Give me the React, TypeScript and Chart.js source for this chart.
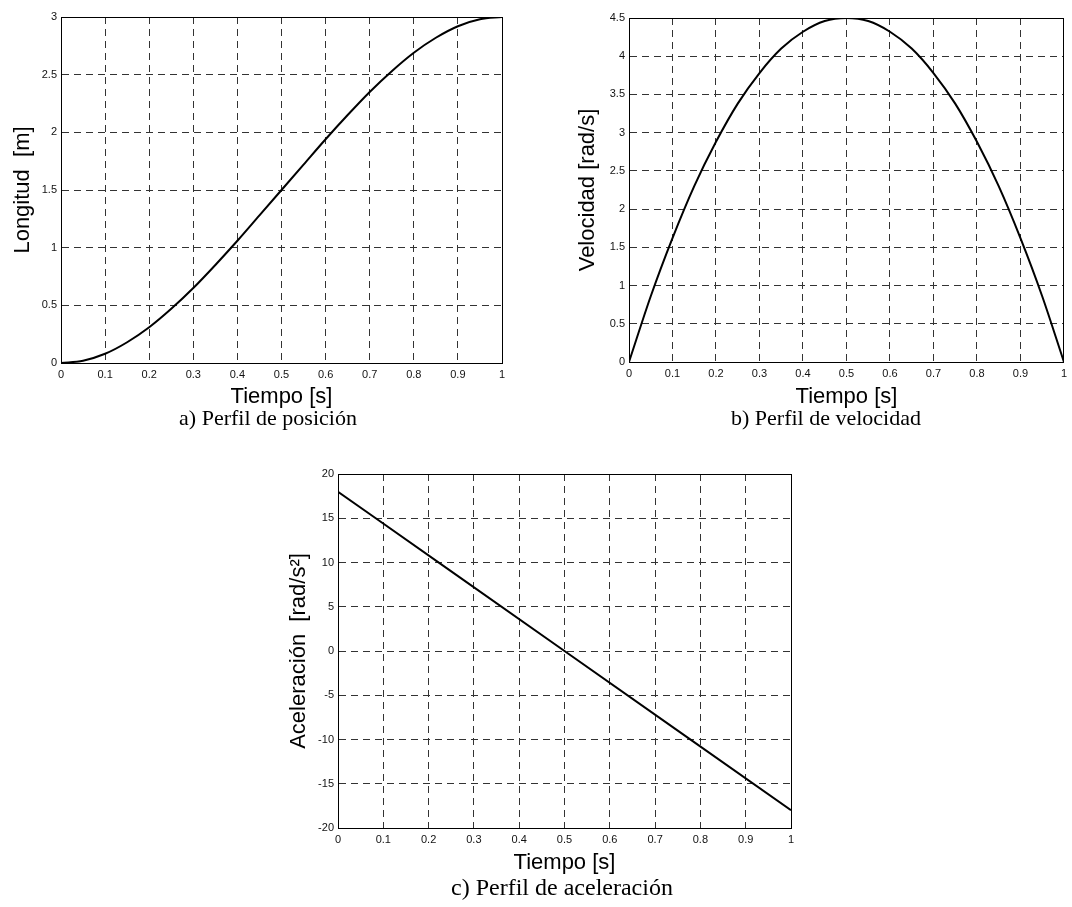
import React, { useEffect, useRef } from 'react';
import { Chart, registerables } from 'chart.js';

Chart.register(...registerables);

// ---------------- data ----------------
const timeValues = [0, 0.05, 0.1, 0.15, 0.2, 0.25, 0.3, 0.35, 0.4, 0.45, 0.5, 0.55, 0.6, 0.65, 0.7, 0.75, 0.8, 0.85, 0.9, 0.95, 1];
const positionValues = [0, 0.02, 0.08, 0.18, 0.31, 0.47, 0.65, 0.85, 1.06, 1.28, 1.5, 1.72, 1.94, 2.15, 2.35, 2.53, 2.69, 2.82, 2.92, 2.98, 3.0];
const velocityValues = [0, 0.86, 1.62, 2.3, 2.88, 3.38, 3.78, 4.1, 4.32, 4.46, 4.5, 4.46, 4.32, 4.1, 3.78, 3.38, 2.88, 2.3, 1.62, 0.86, 0];
const accelTime = [0, 0.25, 0.5, 0.75, 1];
const accelValues = [18, 9, 0, -9, -18];

const xTickLabels = [0, 0.1, 0.2, 0.3, 0.4, 0.5, 0.6, 0.7, 0.8, 0.9, 1];
const positionTicks = [0, 0.5, 1, 1.5, 2, 2.5, 3];
const velocityTicks = [0, 0.5, 1, 1.5, 2, 2.5, 3, 3.5, 4, 4.5];
const accelTicks = [-20, -15, -10, -5, 0, 5, 10, 15, 20];

const xTitle = 'Tiempo [s]';
const captions = ['a) Perfil de posición', 'b) Perfil de velocidad', 'c) Perfil de aceleración'];
const yTitles = ['Longitud  [m]', 'Velocidad [rad/s]', 'Aceleración  [rad/s²]'];

// ---------------- layout ----------------
const SANS = '"Liberation Sans", Arial, sans-serif';
const SERIF = '"Liberation Serif", "Times New Roman", serif';
const TITLE_SIZE = 22;

type Geo = {
  cx: number; cy: number; cw: number; ch: number;
  L: number; T: number; R: number; B: number;
  yTitleX: number; xTitleY: number;
  capX: number; capY: number; capSize: number;
};

const boxPlugin = {
  id: 'matlabBox',
  afterDraw(chart: any) {
    const { ctx, chartArea } = chart;
    const l = Math.round(chartArea.left - 0.5) + 0.5;
    const t = Math.round(chartArea.top - 0.5) + 0.5;
    const r = Math.round(chartArea.right - 0.5) + 0.5;
    const b = Math.round(chartArea.bottom - 0.5) + 0.5;
    ctx.save();
    ctx.strokeStyle = '#000';
    ctx.lineWidth = 1;
    ctx.setLineDash([]);
    ctx.strokeRect(l, t, r - l, b - t);
    ctx.restore();
  },
};

function Panel({ geo, xs, ys, yTicks, yTitle, caption }: {
  geo: Geo; xs: number[]; ys: number[]; yTicks: number[]; yTitle: string; caption: string;
}) {
  const ref = useRef<HTMLCanvasElement | null>(null);

  useEffect(() => {
    if (!ref.current) return;
    const lh = TITLE_SIZE; // lineHeight 1
    const padLeft = geo.yTitleX - geo.cx - lh / 2;
    const yWidth = geo.L - geo.cx - padLeft;
    const padTop = geo.T - geo.cy;
    const padRight = geo.cx + geo.cw - geo.R;
    const xHeight = geo.xTitleY + lh / 2 - geo.B;
    const padBottom = geo.cy + geo.ch - (geo.B + xHeight);

    const chart = new Chart(ref.current, {
      type: 'line',
      data: {
        datasets: [{
          data: xs.map((x, i) => ({ x, y: ys[i] })),
          borderColor: '#000',
          borderWidth: 2,
          pointRadius: 0,
          fill: false,
          cubicInterpolationMode: 'monotone',
        }],
      },
      options: {
        animation: false,
        responsive: false,
        events: [],
        layout: { padding: { left: padLeft, top: padTop, right: padRight, bottom: padBottom } },
        plugins: { legend: { display: false }, tooltip: { enabled: false }, title: { display: false } },
        scales: {
          x: {
            type: 'linear',
            min: xTickLabels[0],
            max: xTickLabels[xTickLabels.length - 1],
            afterBuildTicks: (s: any) => { s.ticks = xTickLabels.map((v) => ({ value: v })); },
            afterFit: (s: any) => { s.height = xHeight; },
            grid: { color: '#333', lineWidth: 1, drawTicks: false },
            border: { display: true, color: '#000', width: 1, dash: [7, 5] },
            ticks: {
              padding: 5,
              color: '#111',
              maxRotation: 0,
              autoSkip: false,
              font: { family: SANS, size: 11 },
              callback: (v: any) => String(v),
            },
            title: {
              display: true,
              text: xTitle,
              color: '#000',
              padding: 0,
              font: { family: SANS, size: TITLE_SIZE, lineHeight: 1 },
            },
          },
          y: {
            type: 'linear',
            min: yTicks[0],
            max: yTicks[yTicks.length - 1],
            afterBuildTicks: (s: any) => { s.ticks = yTicks.map((v) => ({ value: v })); },
            afterFit: (s: any) => { s.width = yWidth; },
            grid: { color: '#333', lineWidth: 1, drawTicks: false },
            border: { display: true, color: '#000', width: 1, dash: [7, 5] },
            ticks: {
              padding: 4,
              color: '#111',
              autoSkip: false,
              font: { family: SANS, size: 11 },
              callback: (v: any) => String(v),
            },
            title: {
              display: true,
              text: yTitle,
              color: '#000',
              padding: 0,
              font: { family: SANS, size: TITLE_SIZE, lineHeight: 1 },
            },
          },
        },
      },
      plugins: [boxPlugin],
    } as any);
    return () => chart.destroy();
  }, []);

  return (
    <>
      <canvas
        ref={ref}
        width={geo.cw}
        height={geo.ch}
        style={{ position: 'absolute', left: geo.cx, top: geo.cy, width: geo.cw, height: geo.ch }}
      />
      <div
        style={{
          position: 'absolute',
          left: geo.capX - 200,
          width: 400,
          top: geo.capY - 13,
          height: 26,
          lineHeight: '26px',
          textAlign: 'center',
          fontFamily: SERIF,
          fontSize: geo.capSize,
          color: '#000',
          whiteSpace: 'nowrap',
        }}
      >
        {caption}
      </div>
    </>
  );
}

const geoA: Geo = { cx: 0, cy: 0, cw: 530, ch: 440, L: 61, T: 17, R: 502, B: 363, yTitleX: 23, xTitleY: 397, capX: 268, capY: 418, capSize: 22 };
const geoB: Geo = { cx: 560, cy: 0, cw: 512, ch: 440, L: 629, T: 18, R: 1066, B: 362, yTitleX: 588, xTitleY: 397, capX: 826, capY: 418, capSize: 22 };
const geoC: Geo = { cx: 260, cy: 450, cw: 560, ch: 440, L: 338, T: 474, R: 791, B: 828, yTitleX: 299, xTitleY: 863, capX: 562, capY: 887, capSize: 24 };

export default function App() {
  return (
    <div style={{ position: 'absolute', left: 0, top: 0, width: 1072, height: 907, background: '#fff', overflow: 'hidden' }}>
      <Panel geo={geoA} xs={timeValues} ys={positionValues} yTicks={positionTicks} yTitle={yTitles[0]} caption={captions[0]} />
      <Panel geo={geoB} xs={timeValues} ys={velocityValues} yTicks={velocityTicks} yTitle={yTitles[1]} caption={captions[1]} />
      <Panel geo={geoC} xs={accelTime} ys={accelValues} yTicks={accelTicks} yTitle={yTitles[2]} caption={captions[2]} />
    </div>
  );
}
